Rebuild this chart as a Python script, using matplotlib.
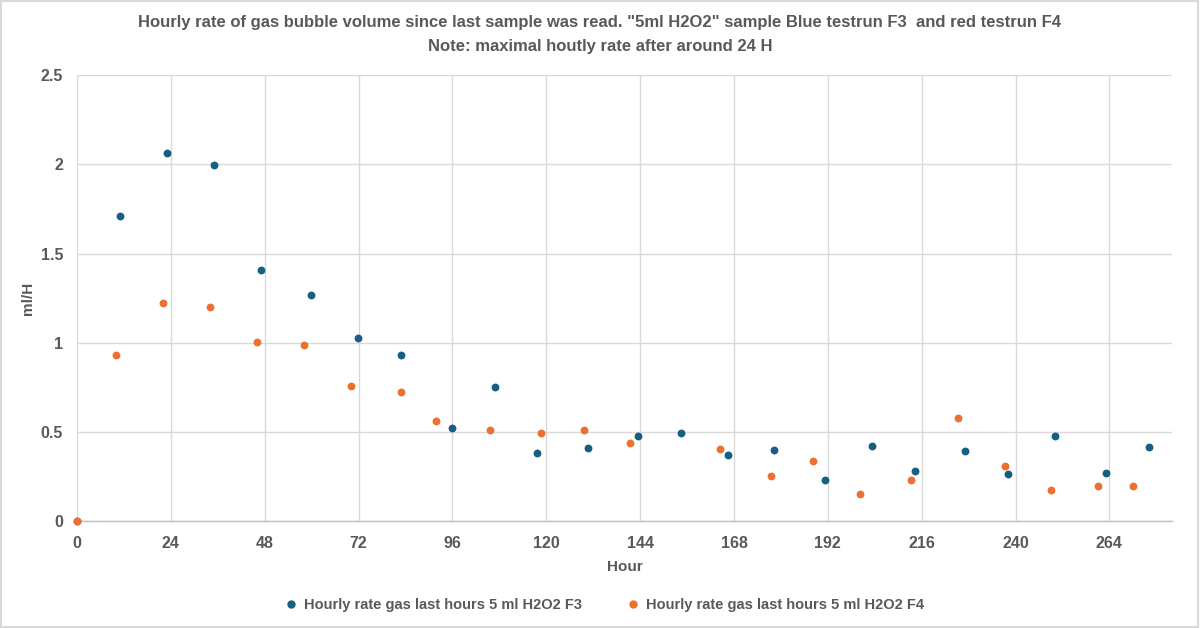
import matplotlib
matplotlib.use("Agg")
import matplotlib.pyplot as plt
from matplotlib.lines import Line2D

title = 'Hourly rate of gas bubble volume since last sample was read. "5ml H2O2" sample Blue testrun F3  and red testrun F4\nNote: maximal houtly rate after around 24 H'
x_label = "Hour"
y_label = "ml/H"
series_f3_name = "Hourly rate gas last hours 5 ml H2O2 F3"
series_f4_name = "Hourly rate gas last hours 5 ml H2O2 F4"

f3_hours = [0, 11.1, 23.1, 35.1, 47.0, 59.9, 71.9, 82.8, 95.9, 106.8, 117.7, 130.6, 143.4,
            154.4, 166.5, 178.2, 191.3, 203.2, 214.2, 227.1, 238.0, 250.1, 263.1, 274.0]
f3_rate = [0, 1.712, 2.062, 1.996, 1.406, 1.270, 1.024, 0.933, 0.524, 0.753, 0.380, 0.412, 0.478,
           0.494, 0.372, 0.397, 0.230, 0.423, 0.283, 0.392, 0.266, 0.479, 0.269, 0.416]

f4_hours = [0, 10.1, 22.1, 34.0, 46.0, 58.1, 70.0, 82.8, 91.8, 105.7, 118.6, 129.6, 141.5,
            164.4, 177.5, 188.3, 200.3, 213.2, 225.2, 237.2, 249.1, 261.1, 270.0]
f4_rate = [0, 0.933, 1.221, 1.198, 1.002, 0.985, 0.757, 0.726, 0.563, 0.513, 0.494, 0.513, 0.438,
           0.406, 0.253, 0.335, 0.152, 0.230, 0.577, 0.309, 0.174, 0.195, 0.195]

x_ticks = list(range(0, 265, 24))
y_ticks = [0, 0.5, 1, 1.5, 2, 2.5]
y_tick_labels = ["0", "0.5", "1", "1.5", "2", "2.5"]

blue = "#156082"
orange = "#E97132"
text_col = "#595959"
grid_col = "#d9d9d9"

plain = ["Liberation Sans", "DejaVu Sans"]

fig = plt.figure(figsize=(12, 6.28), dpi=100)
fig.patch.set_facecolor("white")
ax = fig.add_axes([77/1200, 1-521/628, (1172-77)/1200, (521-75.3)/628])

ax.set_xlim(0, 280)
ax.set_ylim(0, 2.5)
ax.set_xticks(x_ticks)
ax.set_xticklabels([str(t) for t in x_ticks])
ax.set_yticks(y_ticks)
ax.set_yticklabels(y_tick_labels)
ax.grid(True, color=grid_col, linewidth=1.0)
ax.set_axisbelow(True)
for s in ["top", "right", "left"]:
    ax.spines[s].set_visible(False)
ax.spines["bottom"].set_color("#bfbfbf")
ax.spines["bottom"].set_linewidth(1.0)
ax.tick_params(axis="x", length=0, pad=11, labelcolor=text_col)
ax.tick_params(axis="y", length=0, pad=10, labelcolor=text_col)
for lab in ax.get_xticklabels() + ax.get_yticklabels():
    lab.set_family(plain)
    lab.set_fontsize(11.5)
    lab.set_fontweight("bold")

ax.scatter(f3_hours, f3_rate, s=32, color=blue, zorder=3, clip_on=False, linewidths=0)
ax.scatter(f4_hours, f4_rate, s=32, color=orange, zorder=4, clip_on=False, linewidths=0)

ax.set_xlabel(x_label, family=plain, fontsize=11, fontweight="bold", color=text_col, labelpad=6)
ax.set_ylabel(y_label, family=plain, fontsize=11, fontweight="bold", color=text_col, labelpad=4)

fig.text(0.5, 1-34/628, title, ha="center", va="center", family=plain, fontsize=12,
         fontweight="bold", color=text_col, linespacing=1.75)

handles = [Line2D([], [], marker="o", linestyle="", color=blue, markersize=5),
           Line2D([], [], marker="o", linestyle="", color=orange, markersize=5)]
fig.legend(handles, [series_f3_name, series_f4_name], loc="center", bbox_to_anchor=(0.503, 1-605/628),
           ncol=2, frameon=False, prop={"family": plain, "size": 10.5, "weight": "bold"},
           labelcolor=text_col, handletextpad=0.4, columnspacing=3.0, handlelength=1)

border = plt.Rectangle((0.001, 0.001), 0.997, 0.997, transform=fig.transFigure, fill=False,
                       edgecolor=grid_col, linewidth=1.5)
fig.patches.append(border)

fig.savefig("out.png", dpi=100, facecolor="white")
